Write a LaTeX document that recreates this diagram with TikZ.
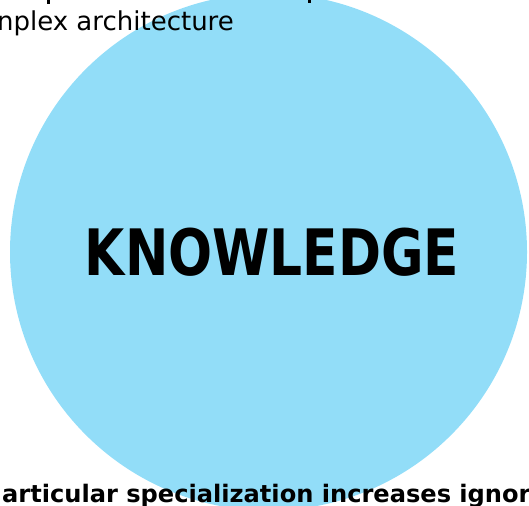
\documentclass[tikz,border=0pt]{standalone}
\usepackage{fontspec}
\newfontfamily\labelfont{DejaVu Sans}
\newfontfamily\titlefont[FakeStretch=0.81]{DejaVu Sans}
\definecolor{knowblue}{RGB}{146,221,248}
\begin{document}
\begin{tikzpicture}[x=1pt,y=-1pt,
  caption/.style={font=\labelfont\fontsize{26}{30}\selectfont, inner sep=0pt, text=black},
  boldcaption/.style={font=\labelfont\bfseries\fontsize{24.1}{29}\selectfont, inner sep=0pt, text=black},
  descender/.style={line width=2.6pt, black}]
  \useasboundingbox (0,0) rectangle (529,505);
  \clip (0,0) rectangle (529,505);
  % knowledge disc
  \fill[knowblue] (268.5,252) circle[radius=258.5];
  \node[font=\titlefont\bfseries\fontsize{64}{70}\selectfont, inner sep=0pt, anchor=base] (know) at (272,275) {KNOWLEDGE};
  % line above the caption, only its descenders remain
  \draw[descender] (48.5,0) -- (48.5,4);
  \draw[descender] (309.5,0) -- (309.5,3);
  % captions
  \node[caption, anchor=base east] (top) at (234,31) {nplex architecture};
  \node[boldcaption, anchor=base west] (bottom) at (2,502) {articular specialization increases ignor};
\end{tikzpicture}
\end{document}
